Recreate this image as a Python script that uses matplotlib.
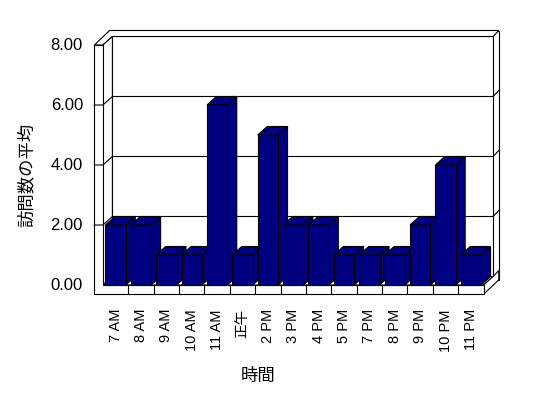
import numpy as np
import matplotlib
matplotlib.use('Agg')
import matplotlib.pyplot as plt
from matplotlib.patches import Polygon

plt.rcParams['font.family'] = ['Liberation Sans', 'Noto Sans CJK JP']

# data
hours = ['7 AM', '8 AM', '9 AM', '10 AM', '11 AM', '正午', '2 PM', '3 PM',
         '4 PM', '5 PM', '7 PM', '8 PM', '9 PM', '10 PM', '11 PM']
visits = [2, 2, 1, 1, 6, 1, 5, 2, 2, 1, 1, 1, 2, 4, 1]
y_ticks = [0, 2, 4, 6, 8]
x_title = '時間'
y_title = '訪問数の平均'

NAVY = '#000080'

# layout in pixels of the front plane
W_PX, H_PX = 548, 398
X0, XS = 102.9, 25.38   # px of first category edge, px per category
Y0, YS = 285.0, 30.0    # px of value 0, px per value unit

fig = plt.figure(figsize=(W_PX / 100, H_PX / 100), dpi=100)
ax = fig.add_axes([0, 0, 1, 1])
ax.set_xlim(-X0 / XS, (W_PX - X0) / XS)
ax.set_ylim((Y0 - H_PX) / YS, Y0 / YS)
ax.axis('off')

n = len(hours)
top = max(y_ticks)
dx, dy = 9.5 / XS, 8.5 / YS      # depth of the box
tx, ty = 5.7 / XS, 6.0 / YS      # back wall thickness
wt, ft = 8.5 / XS, 9.3 / YS      # left wall / floor thickness
lw = 0.8


def face(pts, fc='white', z=1):
    ax.add_patch(Polygon(pts, closed=True, facecolor=fc, edgecolor='black',
                         linewidth=lw, zorder=z, joinstyle='miter'))


# back wall (outer face, inner face, top strip)
face([(-wt + dx + tx, -ft + dy + ty), (n + dx + tx, -ft + dy + ty),
      (n + dx + tx, top + dy + ty), (-wt + dx + tx, top + dy + ty)])
face([(dx, dy), (n + dx, dy), (n + dx, top + dy), (dx, top + dy)])
face([(-wt, top), (0, top), (dx, top + dy), (n + dx, top + dy),
      (n + dx + tx, top + dy + ty), (-wt + dx + tx, top + dy + ty)])
# left wall inner face
face([(0, 0), (0, top), (dx, top + dy), (dx, dy)])
# floor top and right side
face([(0, 0), (n, 0), (n + dx, dy), (dx, dy)])
face([(n, 0), (n, -ft), (n + dx + tx, -ft + dy + ty),
      (n + dx + tx, dy + ty), (n + dx, dy)])
# front of left wall + floor
face([(-wt, -ft), (n, -ft), (n, 0), (0, 0), (0, top), (-wt, top)])

# gridlines
for v in y_ticks[1:-1]:
    ax.plot([-wt, 0, dx, n + dx, n + dx + tx],
            [v, v, v + dy, v + dy, v + dy + ty],
            color='black', linewidth=lw, zorder=2)

# category separators on the floor front
for k in range(1, n):
    ax.plot([k, k], [-ft, 0], color='black', linewidth=lw, zorder=2)

# bars
xc = np.arange(n) + 0.5
bw = 0.8
for i, v in enumerate(visits):
    xl, xr = xc[i] - bw / 2, xc[i] + bw / 2
    face([(xr, 0), (xr, v), (xr + dx, v + dy), (xr + dx, dy)], fc=NAVY, z=3)
    face([(xl, v), (xr, v), (xr + dx, v + dy), (xl + dx, v + dy)], fc=NAVY, z=3)
ax.bar(xc, visits, width=bw, color=NAVY, edgecolor='black', linewidth=lw, zorder=4)

# tick labels
for v in y_ticks:
    ax.text(-wt - 0.45, v, f'{v:.2f}', ha='right', va='center', fontsize=12)
for i, lab in enumerate(hours):
    ax.text(xc[i], -0.8, lab, rotation=90, ha='center', va='top', fontsize=10.5)

fig.text(258 / W_PX, 1 - 376 / H_PX, x_title, ha='center', va='center', fontsize=12.5)
fig.text(26 / W_PX, 1 - 175 / H_PX, y_title, rotation=90, ha='center', va='center',
         fontsize=12.5)

fig.savefig('out.png', dpi=100)
